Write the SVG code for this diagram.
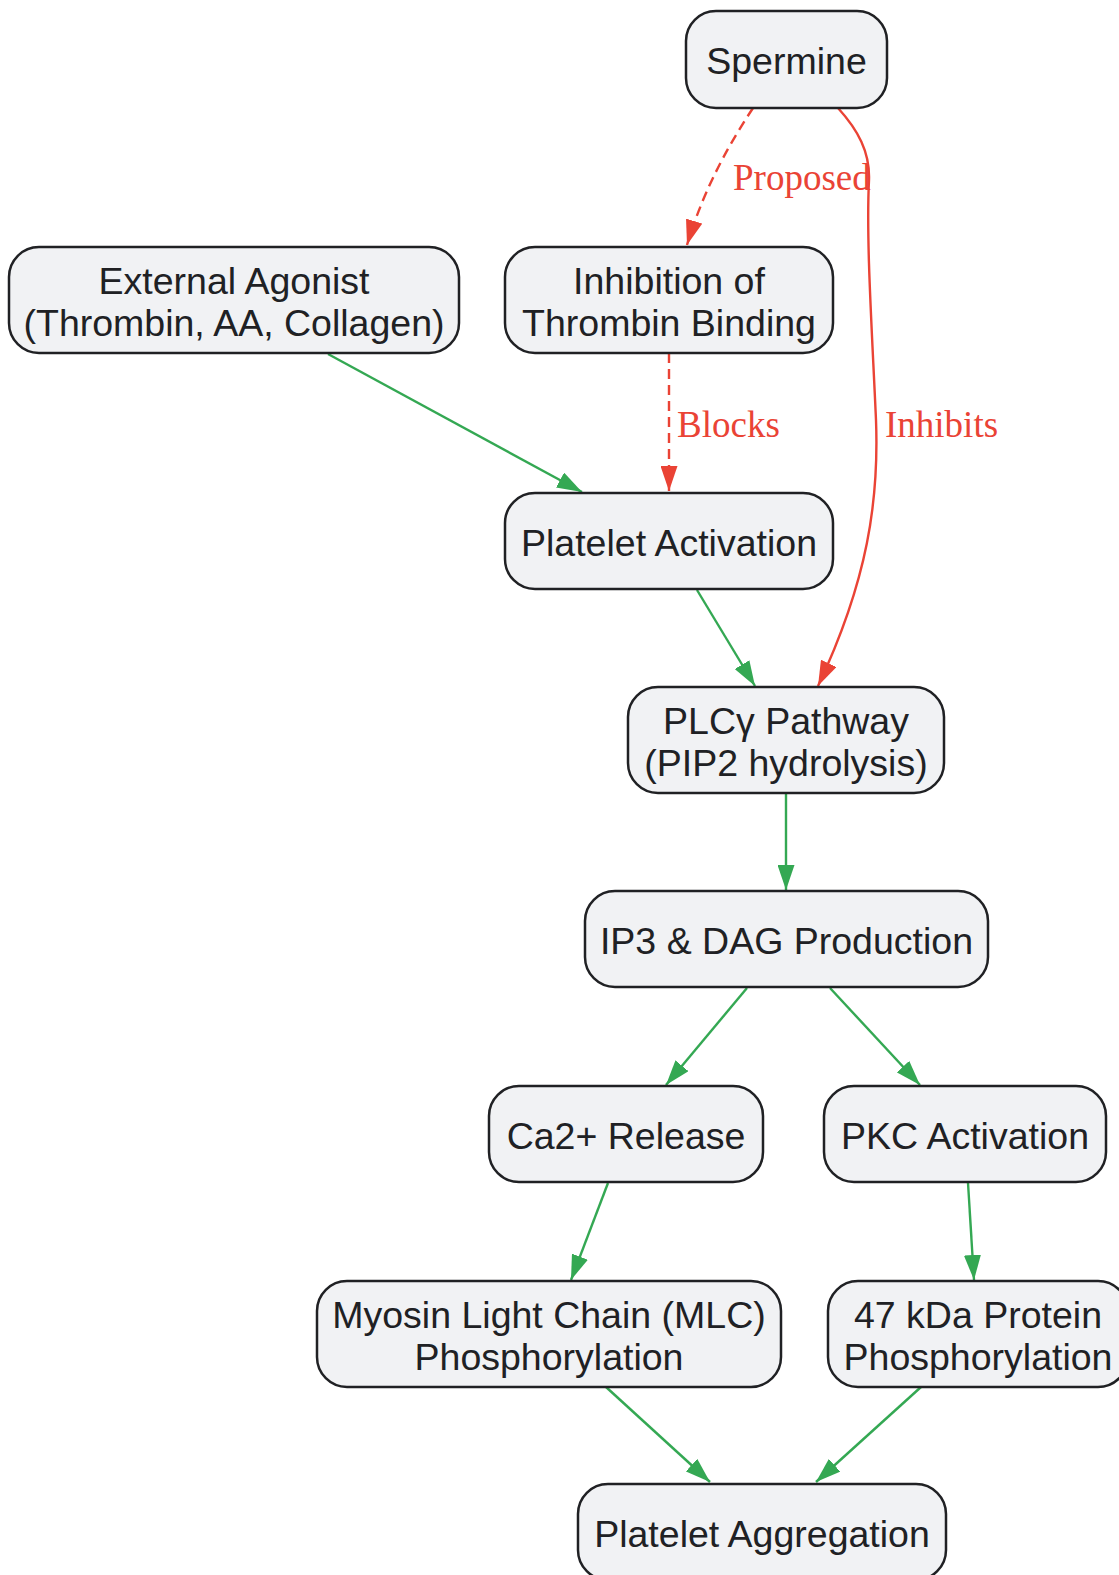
<svg xmlns="http://www.w3.org/2000/svg" width="1119" height="1575" viewBox="0 0 1119 1575">
<style>
.node rect{fill:#f1f2f4;stroke:#202124;stroke-width:2.5}
.node text{font-family:"Liberation Sans",Arial,sans-serif;font-size:37.5px;fill:#202124;text-anchor:middle}
.e{fill:none;stroke-width:2.4}
.g{stroke:#34a853}
.r{stroke:#ea4335}
.d{stroke-dasharray:10,6}
.lbl{font-family:"Liberation Serif","Times New Roman",serif;font-size:37px;fill:#ea4335}
</style>
<defs>
<marker id="ag" markerUnits="userSpaceOnUse" markerWidth="25" markerHeight="17" viewBox="0 0 25 17" refX="25" refY="8.5" orient="auto"><path d="M0,0 L25,8.5 L0,17 z" fill="#34a853"/></marker>
<marker id="ar" markerUnits="userSpaceOnUse" markerWidth="25" markerHeight="17" viewBox="0 0 25 17" refX="25" refY="8.5" orient="auto"><path d="M0,0 L25,8.5 L0,17 z" fill="#ea4335"/></marker>
</defs>
<g id="connectors">
<path class="e r d" d="M753,108 C732,140 705,185 687,245" marker-end="url(#ar)"/>
<path class="e r" d="M838,108 C858,130 870,152 869,180 C866,240 872,330 876,420 C879,500 868,580 818,686" marker-end="url(#ar)"/>
<path class="e r d" d="M669,353 L669,491" marker-end="url(#ar)"/>
<path class="e g" d="M328,354 L582,492" marker-end="url(#ag)"/>
<path class="e g" d="M697,590 L755,686" marker-end="url(#ag)"/>
<path class="e g" d="M786,793 L786,890" marker-end="url(#ag)"/>
<path class="e g" d="M747,988 L666,1085" marker-end="url(#ag)"/>
<path class="e g" d="M830,988 L920,1085" marker-end="url(#ag)"/>
<path class="e g" d="M608,1183 L571,1280" marker-end="url(#ag)"/>
<path class="e g" d="M968,1183 L974,1280" marker-end="url(#ag)"/>
<path class="e g" d="M606,1387 L710,1482" marker-end="url(#ag)"/>
<path class="e g" d="M921,1387 L816,1482" marker-end="url(#ag)"/>
<text class="lbl" x="733" y="190">Proposed</text>
<text class="lbl" x="677" y="437">Blocks</text>
<text class="lbl" x="885" y="437">Inhibits</text>
</g>
<g id="spermine" class="node"><rect x="686" y="11" width="201" height="97" rx="30"/><text x="786.5" y="74">Spermine</text></g>
<g id="external_agonist" class="node"><rect x="9" y="247" width="450" height="106" rx="30"/><text x="234" y="294">External Agonist</text><text x="234" y="336">(Thrombin, AA, Collagen)</text></g>
<g id="inhibition" class="node"><rect x="505" y="247" width="328" height="106" rx="30"/><text x="669" y="294">Inhibition of</text><text x="669" y="336">Thrombin Binding</text></g>
<g id="platelet_activation" class="node"><rect x="505" y="493" width="328" height="96" rx="30"/><text x="669" y="555.5">Platelet Activation</text></g>
<g id="plc" class="node"><rect x="628" y="687" width="316" height="106" rx="30"/><text x="786" y="733.5">PLCγ Pathway</text><text x="786" y="775.5">(PIP2 hydrolysis)</text></g>
<g id="ip3_dag" class="node"><rect x="585" y="891" width="403" height="96" rx="30"/><text x="786.5" y="953.5">IP3 &amp; DAG Production</text></g>
<g id="ca_release" class="node"><rect x="489" y="1086" width="274" height="96" rx="30"/><text x="626" y="1148.5">Ca2+ Release</text></g>
<g id="pkc" class="node"><rect x="824" y="1086" width="282" height="96" rx="30"/><text x="965" y="1148.5">PKC Activation</text></g>
<g id="mlc" class="node"><rect x="317" y="1281" width="464" height="106" rx="30"/><text x="549" y="1327.5">Myosin Light Chain (MLC)</text><text x="549" y="1369.5">Phosphorylation</text></g>
<g id="p47" class="node"><rect x="828" y="1281" width="300" height="106" rx="30"/><text x="978" y="1327.5">47 kDa Protein</text><text x="978" y="1369.5">Phosphorylation</text></g>
<g id="aggregation" class="node"><rect x="578" y="1484" width="368" height="96" rx="30"/><text x="762" y="1546.5">Platelet Aggregation</text></g>
</svg>
